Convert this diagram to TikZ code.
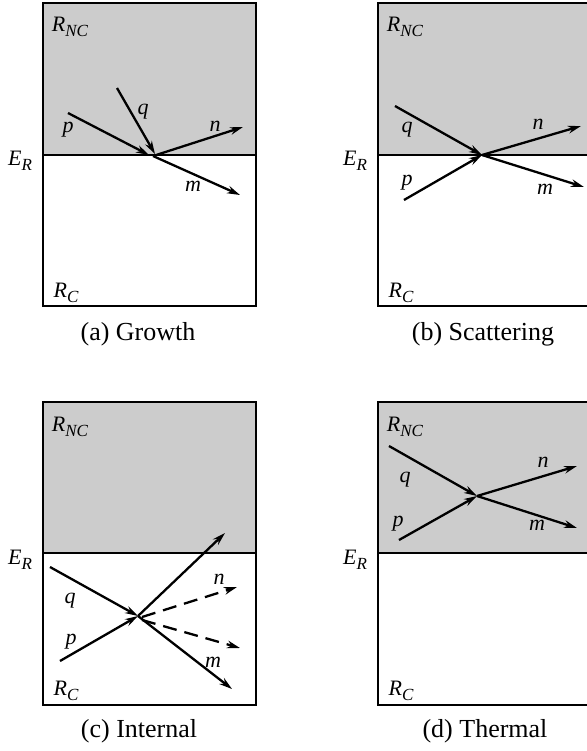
\documentclass[tikz,border=0pt]{standalone}
\usepackage{fontspec}
\setmainfont{Liberation Serif}
\usetikzlibrary{arrows.meta}
\newcommand{\lsub}[1]{\raisebox{-0.45ex}{\fontsize{8.5}{9}\selectfont #1}}

\begin{document}
\begin{tikzpicture}[x=0.5pt,y=-0.5pt,
    lbl/.style={font=\fontsize{11}{12}\selectfont\itshape, inner sep=0pt},
    captext/.style={font=\fontsize{13}{15}\selectfont, inner sep=0pt},
    arr/.style={-{Stealth[length=6.5pt,width=3.8pt]},line width=1.15pt},
    dasharr/.style={arr,dash pattern=on 7pt off 4pt},
    frame/.style={line width=0.9pt}]
    \useasboundingbox (0,0) rectangle (587,751);

    % (a)
    \fill[gray!40] (43,3) rectangle (256,155);
    \draw[frame] (43,3) rectangle (256,306); %枠
    \draw[frame] (43,155) -- (256,155); %E_R
    \node[lbl] (rnca) at (70,27) {R\lsub{NC}};
    \node[lbl] (rca) at (66,293) {R\lsub{C}};
    \node[lbl] (era) at (20,161) {E\lsub{R}};
    \coordinate (pa0) at (68,113);
    \coordinate (qa0) at (117,88);
    \coordinate (pa1) at (149,155);
    \coordinate (qa1) at (155,154);
    \coordinate (xa) at (153,156);
    \coordinate (na) at (243,127);
    \coordinate (ma) at (240,195);
    \draw[arr] (pa0) -- (pa1);
    \draw[arr] (qa0) -- (qa1);
    \draw[arr] (xa) -- (na);
    \draw[arr] (xa) -- (ma);
    \node[lbl] (pa) at (68,130) {p};
    \node[lbl] (qa) at (143,112) {q};
    \node[lbl] (nna) at (215,126) {n};
    \node[lbl] (mma) at (193,186) {m};
    \node[captext] (capa) at (138,334) {(a) Growth};

    % (b)
    \fill[gray!40] (378,3) rectangle (592,155);
    \draw[frame] (378,3) rectangle (592,306);
    \draw[frame] (378,155) -- (592,155);
    \node[lbl] (rncb) at (405,27) {R\lsub{NC}};
    \node[lbl] (rcb) at (401,293) {R\lsub{C}};
    \node[lbl] (erb) at (355,161) {E\lsub{R}};
    \coordinate (qb0) at (395,106);
    \coordinate (pb0) at (404,200);
    \coordinate (xb) at (482,155);
    \coordinate (nb) at (581,126);
    \coordinate (mb) at (584,187);
    \draw[arr] (qb0) -- (xb);
    \draw[arr] (pb0) -- (xb);
    \draw[arr] (xb) -- (nb);
    \draw[arr] (xb) -- (mb);
    \node[lbl] (qb) at (407,130) {q};
    \node[lbl] (pb) at (407,183) {p};
    \node[lbl] (nnb) at (538,124) {n};
    \node[lbl] (mmb) at (545,189) {m};
    \node[captext] (capb) at (483,334) {(b) Scattering};

    % (c)
    \fill[gray!40] (43,402) rectangle (256,553);
    \draw[frame] (43,402) rectangle (256,705);
    \draw[frame] (43,553) -- (256,553);
    \node[lbl] (rncc) at (70,427) {R\lsub{NC}};
    \node[lbl] (rcc) at (66,691) {R\lsub{C}};
    \node[lbl] (erc) at (20,560) {E\lsub{R}};
    \coordinate (qc0) at (50,567);
    \coordinate (pc0) at (60,661);
    \coordinate (xc) at (138,616);
    \coordinate (uc) at (225,533);
    \coordinate (mc) at (232,689);
    \coordinate (xc1) at (142,617);
    \coordinate (xc2) at (142,620);
    \coordinate (nc) at (237,587);
    \coordinate (dc) at (240,648);
    \draw[arr] (qc0) -- (xc);
    \draw[arr] (pc0) -- (xc);
    \draw[arr] (xc) -- (uc);
    \draw[arr] (xc) -- (mc);
    \draw[dasharr] (xc1) -- (nc);
    \draw[dasharr] (xc2) -- (dc);
    \node[lbl] (qc) at (70,601) {q};
    \node[lbl] (pc) at (71,642) {p};
    \node[lbl] (nnc) at (219,579) {n};
    \node[lbl] (mmc) at (213,662) {m};
    \node[captext] (capc) at (139,731) {(c) Internal};

    % (d)
    \fill[gray!40] (378,402) rectangle (592,553);
    \draw[frame] (378,402) rectangle (592,705);
    \draw[frame] (378,553) -- (592,553);
    \node[lbl] (rncd) at (405,427) {R\lsub{NC}};
    \node[lbl] (rcd) at (401,691) {R\lsub{C}};
    \node[lbl] (erd) at (355,560) {E\lsub{R}};
    \coordinate (qd0) at (389,446);
    \coordinate (pd0) at (399,540);
    \coordinate (xd) at (477,496);
    \coordinate (nd) at (577,466);
    \coordinate (md) at (577,528);
    \draw[arr] (qd0) -- (xd);
    \draw[arr] (pd0) -- (xd);
    \draw[arr] (xd) -- (nd);
    \draw[arr] (xd) -- (md);
    \node[lbl] (qd) at (405,480) {q};
    \node[lbl] (pd) at (398,524) {p};
    \node[lbl] (nnd) at (543,462) {n};
    \node[lbl] (mmd) at (537,525) {m};
    \node[captext] (capd) at (485,731) {(d) Thermal};
\end{tikzpicture}
\end{document}
